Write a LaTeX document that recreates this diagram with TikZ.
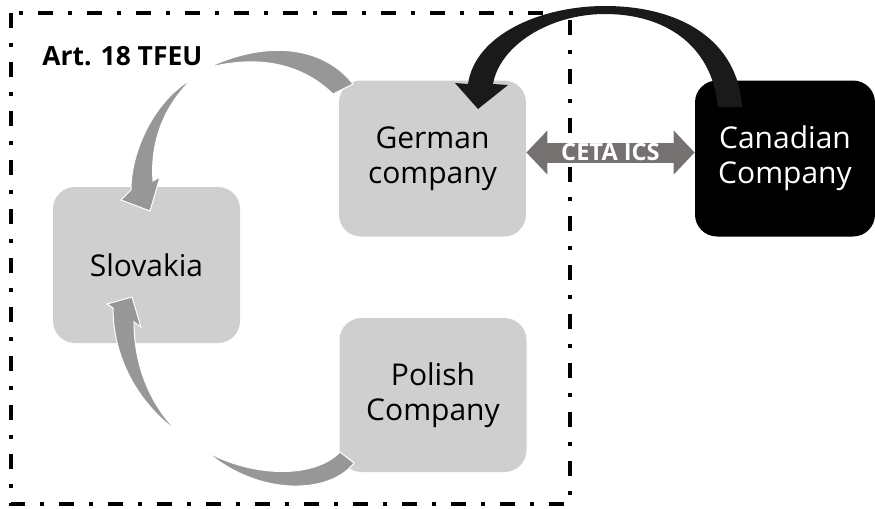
\documentclass[tikz,border=0pt]{standalone}
\usepackage{fontspec}
\setmainfont{Open Sans}
\usetikzlibrary{arrows.meta, positioning}

\definecolor{boxgray}{RGB}{208,207,208}
\definecolor{swoosh}{RGB}{152,151,152}
\definecolor{cetagray}{RGB}{118,113,113}
\definecolor{nearblack}{RGB}{26,26,26}

\begin{document}
\begin{tikzpicture}[
  x=0.5pt, y=-0.5pt,
  box/.style={rectangle, rounded corners=11pt, fill=boxgray, minimum width=93.5pt, minimum height=78pt, align=center, inner sep=0pt, font=\fontsize{15}{17.5}\selectfont},
  frame/.style={line width=2pt, dash pattern=on 7.5pt off 7.5pt on 2pt off 7.5pt},
  swooshfill/.style={fill=swoosh, draw=white, line width=0.5pt},
]
  \useasboundingbox (0,0) rectangle (875,509);

  % Art. 18 TFEU area
  \draw[frame] (11,13) rectangle (570,504);
  \node[anchor=base west, font=\fontsize{13.2}{15}\bfseries\selectfont, inner sep=0pt] (art) at (42,65) {Art. 18 TFEU};

  \node[box] (german) at (432.5,158.5) {German\\company};
  \node[box] (slovakia) at (146.5,265) {Slovakia};
  \node[box, minimum height=77pt] (polish) at (433,395) {Polish\\Company};
  \node[box, fill=black, text=white, minimum width=90pt] (canadian) at (785,158.5) {Canadian\\Company};

  % German -> Slovakia
  \filldraw[swooshfill] (353,84) .. controls (325,48) and (270,38) .. (207,68)
    .. controls (255,55) and (300,62) .. (333,94) -- cycle;
  \filldraw[swooshfill] (192,79) .. controls (155,100) and (131,150) .. (131,190)
    -- (121,200) -- (150,211) -- (160,177) -- (153,181)
    .. controls (150,140) and (165,105) .. (192,79) -- cycle;

  % Polish -> Slovakia
  \filldraw[swooshfill] (354,463) .. controls (330,494) and (260,497) .. (207,452)
    .. controls (255,478) and (315,478) .. (340,452) -- cycle;
  \filldraw[swooshfill] (178,432) .. controls (140,405) and (113,360) .. (113,308)
    -- (107,304) -- (132,297) -- (141,327) -- (134,322)
    .. controls (134,365) and (150,405) .. (178,432) -- cycle;

  % Canadian -> German
  \fill[nearblack] (718,107) .. controls (712,45) and (665,14) .. (605,14)
    .. controls (550,14) and (500,45) .. (493,84) -- (508,85) -- (478,109) -- (455,83) -- (468,84)
    .. controls (475,35) and (540,6) .. (605,6)
    .. controls (680,6) and (738,40) .. (742,107) -- cycle;

  % CETA ICS
  \draw[cetagray, line width=10pt, {Triangle[length=10.5pt, width=21.5pt]}-{Triangle[length=10.5pt, width=21.5pt]}]
    ([yshift=3pt]german.east) -- ([yshift=3pt]canadian.west)
    node[midway, text=white, font=\fontsize{11.8}{12}\bfseries\selectfont, inner sep=0pt] (ceta) {CETA ICS};
\end{tikzpicture}
\end{document}
